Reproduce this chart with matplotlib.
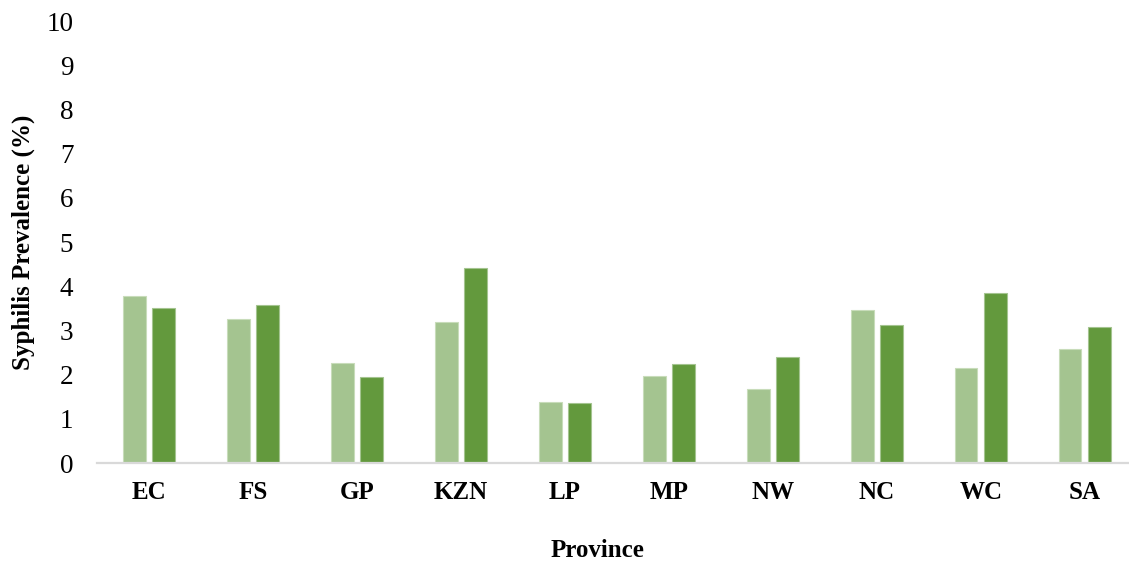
import matplotlib.pyplot as plt
import numpy as np

provinces = ["EC", "FS", "GP", "KZN", "LP", "MP", "NW", "NC", "WC", "SA"]
prev_first = [3.78, 3.25, 2.26, 3.18, 1.38, 1.98, 1.67, 3.46, 2.16, 2.58]
prev_second = [3.50, 3.57, 1.95, 4.42, 1.35, 2.23, 2.40, 3.12, 3.85, 3.08]

light_green = "#A4C490"
dark_green = "#63993D"

plt.rcParams["font.family"] = ["Liberation Serif", "DejaVu Serif"]

fig = plt.figure(figsize=(11.29, 5.65), dpi=100)
ax = fig.add_axes([0.0859, 0.1805, 0.921, 0.7823])

x = np.arange(len(provinces))
w = 0.22
off = 0.142
ax.bar(x - off, prev_first, w, color=light_green, edgecolor="#C8DCBA", linewidth=0.8)
ax.bar(x + off, prev_second, w, color=dark_green, edgecolor="#A4C490", linewidth=0.8)

ax.set_xlim(-0.5, len(provinces) - 0.5)
ax.set_ylim(0, 10)
ax.set_yticks(range(0, 11))
ax.set_xticks(x)
ax.set_xticklabels(provinces, fontweight="bold", fontsize=18)
ax.tick_params(axis="y", length=0, pad=17, labelsize=19.5)
ax.tick_params(axis="x", length=0, pad=13)

for side in ["top", "right", "left"]:
    ax.spines[side].set_visible(False)
ax.spines["bottom"].set_color("#D9D9D9")
ax.spines["bottom"].set_linewidth(1.6)

fig.text(0.529, 0.025, "Province", ha="center", va="center", fontweight="bold", fontsize=18)
fig.text(0.021, 0.572, "Syphilis Prevalence (%)", ha="center", va="center",
         rotation=90, fontweight="bold", fontsize=18)

fig.savefig("out.png", dpi=100)
